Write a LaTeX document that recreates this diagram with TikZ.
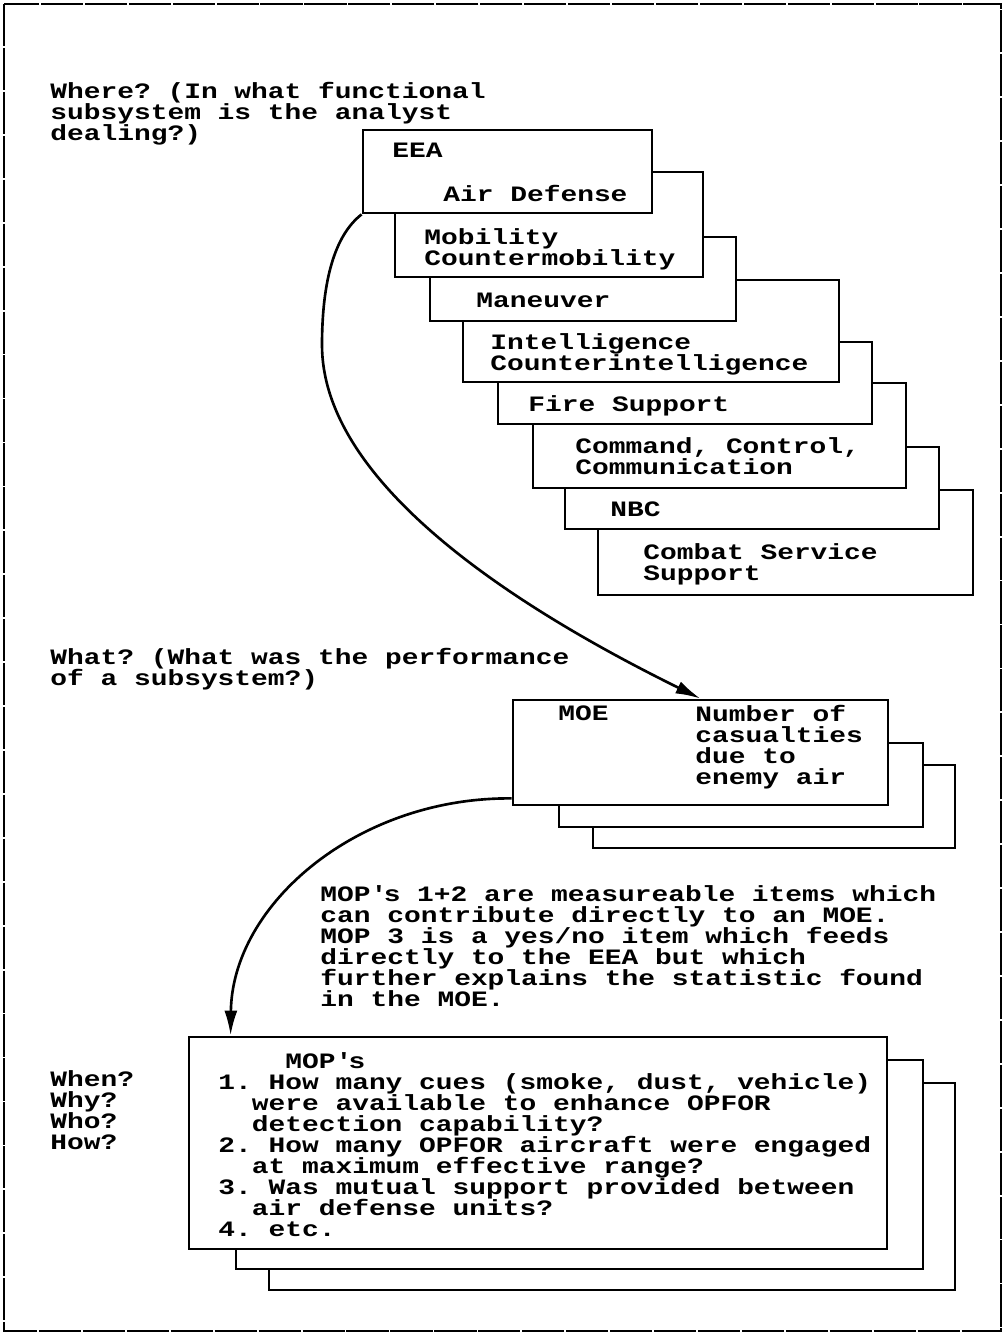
\documentclass[tikz,border=0pt]{standalone}
\usepackage{fontspec}
\setmainfont{Liberation Mono}[FakeStretch=1.27]
\usetikzlibrary{fit,arrows.meta}
\frenchspacing

\begin{document}
\begin{tikzpicture}[x=0.2mm, y=-0.2mm,
    panel/.style={draw, line width=1.6pt, fill=white, inner sep=0pt},
    txt/.style={anchor=north west, inner sep=0pt, align=left, font=\bfseries\fontsize{12.5}{12}\selectfont},
    flow/.style={line width=1.5pt, -{Latex[length=5mm,width=2.6mm]}}]
    \useasboundingbox (0,0) rectangle (1005,1340);
    \draw[line width=1.2pt, dash pattern=on 24pt off 1pt] (4,4) rectangle (1001,1331);

    % where: functional subsystems, back to front
    \node[txt] (where) at (50,82) {Where? (In what functional\\subsystem is the analyst\\dealing?)};
    \node[panel, fit={(598,490) (973,595)}] (css) {};
    \node[txt] (cssT) at (643,543) {Combat Service\\Support};
    \node[panel, fit={(565,447) (939,529)}] (nbc) {};
    \node[txt] (nbcT) at (610,501) {NBC};
    \node[panel, fit={(533,383) (906,488)}] (ccc) {};
    \node[txt] (cccT) at (575,437) {Command, Control,\\Communication};
    \node[panel, fit={(498,342) (872,424)}] (fire) {};
    \node[txt] (fireT) at (528,395) {Fire Support};
    \node[panel, fit={(463,280) (839,382)}] (intel) {};
    \node[txt] (intelT) at (490,333) {Intelligence\\Counterintelligence};
    \node[panel, fit={(430,237) (736,321)}] (man) {};
    \node[txt] (manT) at (476,293) {Maneuver};
    \node[panel, fit={(395,172) (703,277)}] (mob) {};
    \node[txt] (mobT) at (424,228) {Mobility\\Countermobility};
    \node[panel, fit={(363,130) (652,213)}] (eea) {};
    \node[txt] (eeaT) at (392,143) {EEA};
    \node[txt] (adT) at (443,185) {Air Defense};

    % what: MOE stack
    \node[txt] (what) at (50,648) {What? (What was the performance\\of a subsystem?)};
    \node[panel, fit={(593,765) (955,848)}] (moeC) {};
    \node[panel, fit={(559,743) (923,827)}] (moeB) {};
    \node[panel, fit={(513,700) (888,805)}] (moe) {};
    \node[txt] (moeT) at (558,705) {MOE};
    \node[txt] (moeD) at (695,705) {Number of\\casualties\\due to\\enemy air};

    \node[txt] (note) at (320,885) {MOP\textquotesingle s 1+2 are measureable items which\\can contribute directly to an MOE.\\MOP 3 is a yes/no item which feeds\\directly to the EEA but which\\further explains the statistic found\\in the MOE.};

    % when/why/who/how: MOP stack
    \node[txt] (ask) at (50,1070) {When?\\Why?\\Who?\\How?};
    \node[panel, fit={(269,1083) (955,1290)}] (mopC) {};
    \node[panel, fit={(236,1060) (923,1269)}] (mopB) {};
    \node[panel, fit={(189,1037) (887,1249)}] (mop) {};
    \node[txt] (mopT) at (218,1052) {\phantom{1.~H}MOP\textquotesingle s\\
        1. How many cues (smoke, dust, vehicle)\\
        \phantom{1.}were available to enhance OPFOR\\
        \phantom{1.}detection capability?\\
        2. How many OPFOR aircraft were engaged\\
        \phantom{1.}at maximum effective range?\\
        3. Was mutual support provided between\\
        \phantom{1.}air defense units?\\
        4. etc.};

    \draw[flow] (eea.south west) .. controls (335,235) and (322,280) .. (322,345)
        .. controls (322,470) and (480,590) .. (moe.north);
    \draw[flow] ([yshift=0.16cm]moe.south west) .. controls (358,797) and (232,904) .. ([xshift=0.86cm]mop.north west);
\end{tikzpicture}
\end{document}
